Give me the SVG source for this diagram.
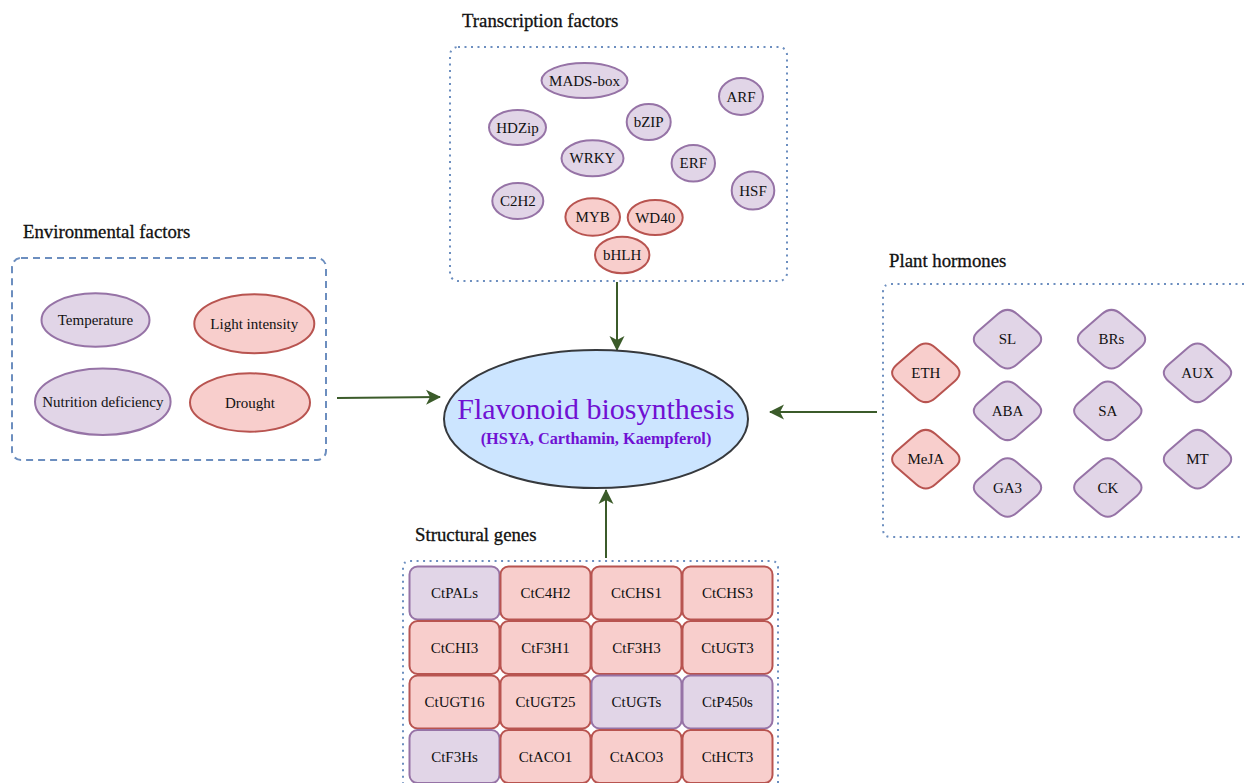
<svg xmlns="http://www.w3.org/2000/svg" xmlns:xlink="http://www.w3.org/1999/xlink" width="1244" height="783" viewBox="0 0 1244 783">
<style>
text{font-family:"Liberation Serif","Times New Roman",serif;fill:#111;}
.t{font-size:15px;text-anchor:middle;dominant-baseline:central;}
.h{font-size:18.8px;stroke:#111;stroke-width:0.3;}
.p{fill:#e1d5e7;stroke:#9673a6;stroke-width:2;}
.r{fill:#f8cecc;stroke:#b85450;stroke-width:2;}
.dot{fill:none;stroke:#6c8ebf;stroke-width:2;stroke-dasharray:2 4.5;}
.dash{fill:none;stroke:#6c8ebf;stroke-width:2;stroke-dasharray:7 5;}
.ar{fill:none;stroke:#3b5b2a;stroke-width:2;marker-end:url(#ah);}
</style>
<defs>
<marker id="ah" markerWidth="16" markerHeight="16" refX="14" refY="8" orient="auto" markerUnits="userSpaceOnUse" viewBox="0 0 16 16">
<path d="M0,0.5 L15,8 L0,15.5 L4,8 Z" fill="#3b5b2a"/>
</marker>
<path id="dia" d="M-9.6,-25.1 Q0,-33.5 9.6,-25.1 L28.9,-8.4 Q38.5,0 28.9,8.4 L9.6,25.1 Q0,33.5 -9.6,25.1 L-28.9,8.4 Q-38.5,0 -28.9,-8.4 Z"/>
</defs>
<rect width="1244" height="783" fill="#fff"/>

<!-- Titles -->
<text class="h" x="462" y="26.5">Transcription factors</text>
<text class="h" x="23" y="237.5">Environmental factors</text>
<text class="h" x="889" y="266.5">Plant hormones</text>
<text class="h" x="415" y="541">Structural genes</text>

<!-- Group boxes -->
<rect class="dot" x="450" y="47" width="337" height="234" rx="8"/>
<rect class="dash" x="12" y="258" width="314" height="202" rx="9"/>
<path class="dot" d="M1244,284 L891,284 Q883,284 883,292 L883,529 Q883,537 891,537 L1244,537"/>
<path class="dot" d="M778,783 L778,568 Q778,561 771,561 L410,561 Q403,561 403,568 L403,783"/>

<!-- Connectors -->
<g id="connectors">
<path class="ar" d="M617,282 L617,350"/>
<path class="ar" d="M337,398 L440,397"/>
<path class="ar" d="M877,412 L770,412"/>
<path class="ar" d="M606,558 L606,490"/>
</g>

<!-- Central node -->
<g id="flavonoid">
<ellipse cx="596" cy="419" rx="152" ry="69" fill="#cce5ff" stroke="#36393d" stroke-width="2"/>
<text x="596" y="419" text-anchor="middle" style="font-size:30px;fill:#7011d3;">Flavonoid biosynthesis</text>
<text x="596" y="444" text-anchor="middle" style="font-size:16.3px;font-weight:bold;fill:#7011d3;">(HSYA, Carthamin, Kaempferol)</text>
</g>

<!-- Transcription factors -->
<g id="tf-madsbox"><ellipse class="p" cx="584.5" cy="80.5" rx="43" ry="17.5"/><text class="t" x="584.5" y="80.5">MADS-box</text></g>
<g id="tf-arf"><ellipse class="p" cx="741" cy="96.5" rx="22" ry="18.5"/><text class="t" x="741" y="96.5">ARF</text></g>
<g id="tf-hdzip"><ellipse class="p" cx="517.5" cy="127.5" rx="28.5" ry="17.5"/><text class="t" x="517.5" y="127.5">HDZip</text></g>
<g id="tf-bzip"><ellipse class="p" cx="648.7" cy="122" rx="22" ry="18"/><text class="t" x="648.7" y="122">bZIP</text></g>
<g id="tf-wrky"><ellipse class="p" cx="592.5" cy="158.3" rx="31" ry="18"/><text class="t" x="592.5" y="158.3">WRKY</text></g>
<g id="tf-erf"><ellipse class="p" cx="693.3" cy="163.3" rx="21.7" ry="18.3"/><text class="t" x="693.3" y="163.3">ERF</text></g>
<g id="tf-hsf"><ellipse class="p" cx="753" cy="190.5" rx="21.3" ry="19"/><text class="t" x="753" y="190.5">HSF</text></g>
<g id="tf-c2h2"><ellipse class="p" cx="517.8" cy="201" rx="25.5" ry="18"/><text class="t" x="517.8" y="201">C2H2</text></g>
<g id="tf-myb"><ellipse class="r" cx="592.7" cy="217" rx="27.3" ry="18.7"/><text class="t" x="592.7" y="217">MYB</text></g>
<g id="tf-wd40"><ellipse class="r" cx="655.2" cy="217.5" rx="27.5" ry="17.5"/><text class="t" x="655.2" y="217.5">WD40</text></g>
<g id="tf-bhlh"><ellipse class="r" cx="622.2" cy="255" rx="27.2" ry="18.3"/><text class="t" x="622.2" y="255">bHLH</text></g>

<!-- Environmental factors -->
<g id="env-temperature"><ellipse class="p" cx="95.5" cy="320" rx="54" ry="26.7"/><text class="t" x="95.5" y="320">Temperature</text></g>
<g id="env-light"><ellipse class="r" cx="254.3" cy="323.8" rx="60" ry="29.5"/><text class="t" x="254.3" y="323.8">Light intensity</text></g>
<g id="env-nutrition"><ellipse class="p" cx="102.8" cy="401.7" rx="67.8" ry="33.3"/><text class="t" x="102.8" y="401.7">Nutrition deficiency</text></g>
<g id="env-drought"><ellipse class="r" cx="250" cy="402.5" rx="60" ry="29.2"/><text class="t" x="250" y="402.5">Drought</text></g>

<!-- Plant hormones -->
<g id="ph-eth" transform="translate(925.8,372.8)"><use href="#dia" class="r"/><text class="t" x="0" y="0">ETH</text></g>
<g id="ph-meja" transform="translate(925.8,459.2)"><use href="#dia" class="r"/><text class="t" x="0" y="0">MeJA</text></g>
<g id="ph-sl" transform="translate(1007.5,339.2)"><use href="#dia" class="p"/><text class="t" x="0" y="0">SL</text></g>
<g id="ph-aba" transform="translate(1007.5,410.8)"><use href="#dia" class="p"/><text class="t" x="0" y="0">ABA</text></g>
<g id="ph-ga3" transform="translate(1007.5,487.5)"><use href="#dia" class="p"/><text class="t" x="0" y="0">GA3</text></g>
<g id="ph-brs" transform="translate(1111.5,339.2)"><use href="#dia" class="p"/><text class="t" x="0" y="0">BRs</text></g>
<g id="ph-sa" transform="translate(1107.8,410.8)"><use href="#dia" class="p"/><text class="t" x="0" y="0">SA</text></g>
<g id="ph-ck" transform="translate(1107.8,487.5)"><use href="#dia" class="p"/><text class="t" x="0" y="0">CK</text></g>
<g id="ph-aux" transform="translate(1197.5,372.8)"><use href="#dia" class="p"/><text class="t" x="0" y="0">AUX</text></g>
<g id="ph-mt" transform="translate(1197.5,459.2)"><use href="#dia" class="p"/><text class="t" x="0" y="0">MT</text></g>

<!-- Structural genes -->
<g id="sg-ctpals"><rect class="p" x="409.5" y="566.5" width="90" height="53" rx="8"/><text class="t" x="454.5" y="593">CtPALs</text></g>
<g id="sg-ctc4h2"><rect class="r" x="500.5" y="566.5" width="90" height="53" rx="8"/><text class="t" x="545.5" y="593">CtC4H2</text></g>
<g id="sg-ctchs1"><rect class="r" x="591.5" y="566.5" width="90" height="53" rx="8"/><text class="t" x="636.5" y="593">CtCHS1</text></g>
<g id="sg-ctchs3"><rect class="r" x="682.5" y="566.5" width="90" height="53" rx="8"/><text class="t" x="727.5" y="593">CtCHS3</text></g>
<g id="sg-ctchi3"><rect class="r" x="409.5" y="621" width="90" height="53" rx="8"/><text class="t" x="454.5" y="647.5">CtCHI3</text></g>
<g id="sg-ctf3h1"><rect class="r" x="500.5" y="621" width="90" height="53" rx="8"/><text class="t" x="545.5" y="647.5">CtF3H1</text></g>
<g id="sg-ctf3h3"><rect class="r" x="591.5" y="621" width="90" height="53" rx="8"/><text class="t" x="636.5" y="647.5">CtF3H3</text></g>
<g id="sg-ctugt3"><rect class="r" x="682.5" y="621" width="90" height="53" rx="8"/><text class="t" x="727.5" y="647.5">CtUGT3</text></g>
<g id="sg-ctugt16"><rect class="r" x="409.5" y="675.5" width="90" height="53" rx="8"/><text class="t" x="454.5" y="702">CtUGT16</text></g>
<g id="sg-ctugt25"><rect class="r" x="500.5" y="675.5" width="90" height="53" rx="8"/><text class="t" x="545.5" y="702">CtUGT25</text></g>
<g id="sg-ctugts"><rect class="p" x="591.5" y="675.5" width="90" height="53" rx="8"/><text class="t" x="636.5" y="702">CtUGTs</text></g>
<g id="sg-ctp450s"><rect class="p" x="682.5" y="675.5" width="90" height="53" rx="8"/><text class="t" x="727.5" y="702">CtP450s</text></g>
<g id="sg-ctf3hs"><rect class="p" x="409.5" y="730" width="90" height="53" rx="8"/><text class="t" x="454.5" y="756.5">CtF3Hs</text></g>
<g id="sg-ctaco1"><rect class="r" x="500.5" y="730" width="90" height="53" rx="8"/><text class="t" x="545.5" y="756.5">CtACO1</text></g>
<g id="sg-ctaco3"><rect class="r" x="591.5" y="730" width="90" height="53" rx="8"/><text class="t" x="636.5" y="756.5">CtACO3</text></g>
<g id="sg-cthct3"><rect class="r" x="682.5" y="730" width="90" height="53" rx="8"/><text class="t" x="727.5" y="756.5">CtHCT3</text></g>
</svg>
